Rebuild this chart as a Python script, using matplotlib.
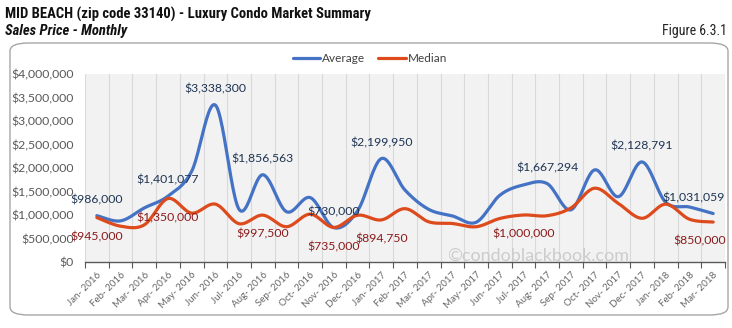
import numpy as np
import matplotlib
matplotlib.use("Agg")
import matplotlib.pyplot as plt
from matplotlib.patches import FancyBboxPatch
from matplotlib import font_manager
from matplotlib.font_manager import FontProperties

months = ["Jan- 2016", "Feb- 2016", "Mar- 2016", "Apr- 2016", "May- 2016", "Jun- 2016",
          "Jul- 2016", "Aug- 2016", "Sep- 2016", "Oct- 2016", "Nov- 2016", "Dec- 2016",
          "Jan- 2017", "Feb- 2017", "Mar- 2017", "Apr- 2017", "May- 2017", "Jun- 2017",
          "Jul- 2017", "Aug- 2017", "Sep- 2017", "Oct- 2017", "Nov- 2017", "Dec- 2017",
          "Jan- 2018", "Feb- 2018", "Mar- 2018"]

average = [986000, 875000, 1150000, 1401077, 1930000, 3338300,
           1120000, 1856563, 1070000, 1370000, 730000, 1090000,
           2199950, 1530000, 1120000, 980000, 845000, 1420000,
           1640000, 1667294, 1110000, 1960000, 1390000, 2128791,
           1270000, 1170000, 1031059]

median = [945000, 762000, 790000, 1350000, 1040000, 1231000,
          815000, 997500, 750000, 1018000, 735000, 995000,
          894750, 1135000, 855000, 819000, 750000, 926000,
          1000000, 985000, 1150000, 1570000, 1246000, 930000,
          1231000, 910000, 850000]

avg_labels = {0: "$986,000", 3: "$1,401,077", 5: "$3,338,300", 7: "$1,856,563",
              10: "$730,000", 12: "$2,199,950", 19: "$1,667,294", 23: "$2,128,791",
              26: "$1,031,059"}
med_labels = {0: "$945,000", 3: "$1,350,000", 7: "$997,500", 10: "$735,000",
              12: "$894,750", 18: "$1,000,000", 26: "$850,000"}

yticks = [0, 500000, 1000000, 1500000, 2000000, 2500000, 3000000, 3500000, 4000000]

ttf = font_manager.fontManager.ttflist
avail = {f.name for f in ttf}
body = "Lato" if "Lato" in avail else "DejaVu Sans"

# find a condensed font for the title
narrow_file = None
narrow_it_file = None
narrow_reg_file = None
pref = ["Liberation Sans Narrow", "Roboto Condensed", "Open Sans Condensed", "DejaVu Sans", "Noto Sans"]
for fam in pref:
    cands = [f for f in ttf if (f.name == fam or fam in f.name) and
             (f.stretch in ("condensed", "semi-condensed", "extra-condensed") or
              "Narrow" in f.name or "Condensed" in f.name or
              "Condensed" in f.fname or "Narrow" in f.fname)]
    if cands:
        def w(f):
            try:
                return int(f.weight)
            except Exception:
                return 700 if "bold" in str(f.weight) else 400
        bold = [f for f in cands if w(f) >= 600]
        bold_up = [f for f in bold if f.style == "normal"]
        bold_it = [f for f in bold if f.style != "normal"]
        reg = [f for f in cands if w(f) < 600 and f.style == "normal"]
        if bold_up:
            narrow_file = bold_up[0].fname
            narrow_it_file = bold_it[0].fname if bold_it else bold_up[0].fname
            narrow_reg_file = reg[0].fname if reg else bold_up[0].fname
            break

if narrow_file:
    fp_title = FontProperties(fname=narrow_file, size=10.5)
    fp_sub = FontProperties(fname=narrow_it_file, size=10.5)
    fp_fig = FontProperties(fname=narrow_reg_file, size=10)
else:
    fp_title = FontProperties(family="Liberation Sans", weight="bold", size=8.5)
    fp_sub = FontProperties(family="Liberation Sans", weight="bold", style="italic", size=8.5)
    fp_fig = FontProperties(family="Liberation Sans", size=8.5)


def smooth(y):
    y = np.asarray(y, float)
    n = len(y)
    xs, ys = [], []
    t = np.linspace(0, 1, 25)
    for i in range(n - 1):
        p0 = np.array([i - 1 if i > 0 else i, y[i - 1] if i > 0 else y[i]])
        p1 = np.array([i, y[i]])
        p2 = np.array([i + 1, y[i + 1]])
        p3 = np.array([i + 2 if i + 2 < n else i + 1, y[i + 2] if i + 2 < n else y[i + 1]])
        c1 = p1 + (p2 - p0) / 6.0
        c2 = p2 - (p3 - p1) / 6.0
        b = ((1 - t) ** 3)[:, None] * p1 + (3 * (1 - t) ** 2 * t)[:, None] * c1 + \
            (3 * (1 - t) * t ** 2)[:, None] * c2 + (t ** 3)[:, None] * p2
        xs.extend(b[:, 0]); ys.extend(b[:, 1])
    return np.array(xs), np.array(ys)


W, H = 732, 328
fig = plt.figure(figsize=(W / 100, H / 100), dpi=100)
fig.patch.set_facecolor("white")

frame = FancyBboxPatch((10 / W, 13 / H), 718 / W, 272 / H,
                       boxstyle="round,pad=0,rounding_size=0.025",
                       transform=fig.transFigure, facecolor="none",
                       edgecolor="#a6a6a6", linewidth=1.0, zorder=-1)
fig.patches.append(frame)

fig.text(5 / W, 1 - 14 / H, "MID BEACH (zip code 33140) - Luxury Condo Market Summary",
         fontproperties=fp_title, va="center", ha="left", color="#111111")
fig.text(5 / W, 1 - 31 / H, "Sales Price - Monthly", fontproperties=fp_sub,
         va="center", ha="left", color="#111111")
fig.text(727 / W, 1 - 31 / H, "Figure 6.3.1", fontproperties=fp_fig,
         va="center", ha="right", color="#222222")

ax = fig.add_axes([85 / W, 1 - 262 / H, 640 / W, 188 / H])
ax.set_facecolor("#f2f2f2")
x = np.arange(len(months))
blue = "#4472c4"
red = "#dd4b1c"

xa, ya = smooth(average)
xm, ym = smooth(median)
ax.plot(xa, ya, color=blue, lw=2.3, solid_capstyle="round", zorder=3, label="Average")
ax.plot(xm, ym, color=red, lw=2.3, solid_capstyle="round", zorder=3, label="Median")

ax.set_xlim(-0.5, len(months) - 0.5)
ax.set_ylim(0, 4000000)
ax.set_yticks(yticks)
ax.set_yticklabels(["${:,.0f}".format(v) for v in yticks], fontsize=8.8, color="#595959",
                   family=body)
ax.tick_params(axis="y", length=0, pad=8)

bounds = np.arange(-0.5, len(months), 1.0)
ax.set_xticks(bounds)
ax.set_xticklabels([])
ax.set_xticks(x, minor=True)
ax.set_xticklabels(months, minor=True, rotation=45, ha="right", rotation_mode="anchor",
                   fontsize=7, color="#666666", family=body)
ax.tick_params(axis="x", which="major", length=4, color="#595959", direction="out")
ax.tick_params(axis="x", which="minor", length=0, pad=6)
ax.grid(axis="x", which="major", color="#d9d9d9", lw=0.8)
ax.set_axisbelow(True)
for s in ["top", "right", "left"]:
    ax.spines[s].set_visible(False)
ax.spines["bottom"].set_color("#595959")
ax.spines["bottom"].set_linewidth(1.0)

ax.text(18.6, 140000, "\u00a9condoblackbook.com", fontsize=13, color="#cccccc",
        ha="center", va="center", family=body, zorder=1)

for i, s in avg_labels.items():
    dx = -20 if i == len(months) - 1 else 0
    ax.annotate(s, (x[i], average[i]), xytext=(dx, 16), textcoords="offset pixels",
                ha="center", va="center", fontsize=8.8, color="#1f3553", family=body, zorder=5)
for i, s in med_labels.items():
    dx = -13 if i == len(months) - 1 else 0
    ax.annotate(s, (x[i], median[i]), xytext=(dx, -19), textcoords="offset pixels",
                ha="center", va="center", fontsize=8.8, color="#8b1a1a", family=body, zorder=5)

leg = fig.legend(handles=ax.get_lines(), loc="center", bbox_to_anchor=(370 / W, 1 - 59 / H),
                 ncol=2, frameon=False, handlelength=2.3, handletextpad=0.2,
                 columnspacing=1.1, prop={"family": body, "size": 8.5})
for t in leg.get_texts():
    t.set_color("#404040")

fig.savefig("out.png", dpi=100, facecolor="white")
